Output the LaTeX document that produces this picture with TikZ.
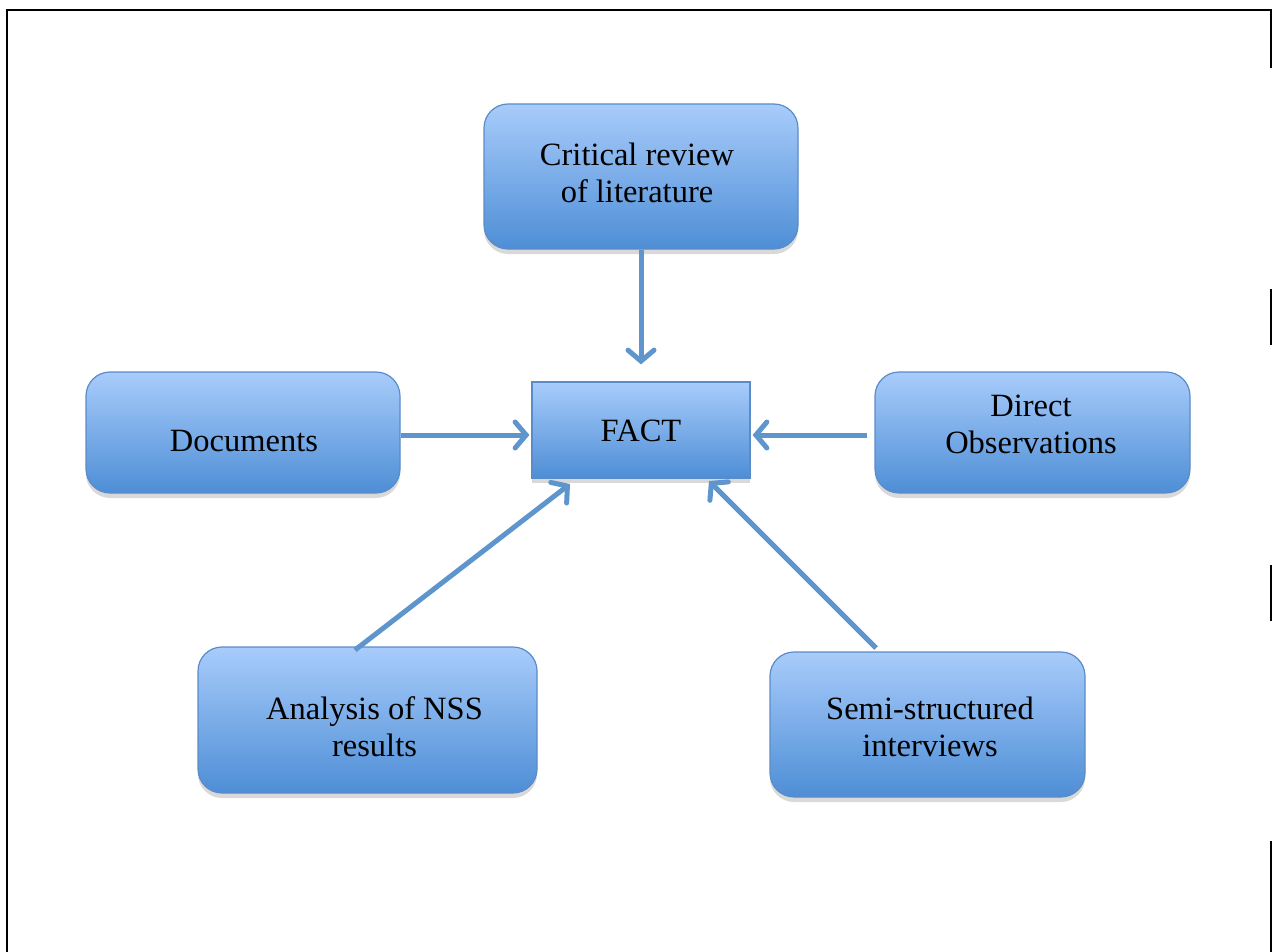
\documentclass[tikz,border=0pt]{standalone}
\usepackage{fontspec}
\setmainfont{Liberation Serif}
\usetikzlibrary{arrows.meta,shadows}
\definecolor{boxtop}{HTML}{A8CCFB}
\definecolor{boxbot}{HTML}{4E8ED6}
\definecolor{boxline}{HTML}{5A8CC8}
\definecolor{arrowc}{HTML}{5E95CC}
\tikzset{
  box/.style={draw=boxline, line width=1.2pt, top color=boxtop, bottom color=boxbot,
    rounded corners=24pt, inner sep=0pt,
    drop shadow={opacity=0.3, shadow xshift=0pt, shadow yshift=-5pt}},
  factbox/.style={box, rounded corners=0pt},
  boxtext/.style={align=center, inner sep=0pt, font=\fontsize{32.5}{37}\selectfont},
  arr/.style={draw=arrowc, line width=5pt,
    -{Straight Barb[length=11pt,width=26pt,line cap=round]}},
  frame/.style={line width=2.5pt, black}
}
\begin{document}
\begin{tikzpicture}[x=1pt,y=-1pt]
\useasboundingbox (0,0) rectangle (1274,952);
% frame
\draw[frame] (7,952) -- (7,10) -- (1271,10) -- (1271,68);
\draw[frame] (1271,289) -- (1271,345);
\draw[frame] (1271,565) -- (1271,621);
\draw[frame] (1271,841) -- (1271,952);
% boxes
\node[box, minimum width=314, minimum height=145] (crit) at (641,176.5) {};
\node[factbox, minimum width=218, minimum height=96] (fact) at (641,430) {};
\node[box, minimum width=314, minimum height=121] (doc) at (243,432.5) {};
\node[box, minimum width=315, minimum height=121] (obs) at (1032.5,432.5) {};
\node[box, minimum width=339, minimum height=146] (ana) at (367.5,720) {};
\node[box, minimum width=315, minimum height=145] (semi) at (927.5,724.5) {};
% texts
\node[boxtext] (critT) at (637,172.5) {Critical review\\of literature};
\node[boxtext] (factT) at (641,431) {FACT};
\node[boxtext] (docT) at (244,441) {Documents};
\node[boxtext] (obsT) at (1031,424.5) {Direct\\Observations};
\node[boxtext] (anaT) at (374.5,726.5) {Analysis of NSS\\results};
\node[boxtext] (semiT) at (930,726.5) {Semi-structured\\interviews};
% connector ends
\coordinate (anaend) at (355,650);
\coordinate (factsw) at (570,484);
\coordinate (semiend) at (876,648);
\coordinate (factse) at (709,481);
% connectors
\draw[arr] (crit.south) -- ([yshift=17pt]fact.north);
\draw[arr] ([yshift=-2.5pt]doc.east) -- ([yshift=-2.5pt,xshift=-2pt]doc.east -| fact.west);
\draw[arr] ([yshift=-2.5pt,xshift=-7pt]obs.west) -- ([yshift=-2.5pt,xshift=2pt]obs.west -| fact.east);
\draw[arr] (anaend) -- (factsw);
\draw[arr] (semiend) -- (factse);
\end{tikzpicture}
\end{document}
